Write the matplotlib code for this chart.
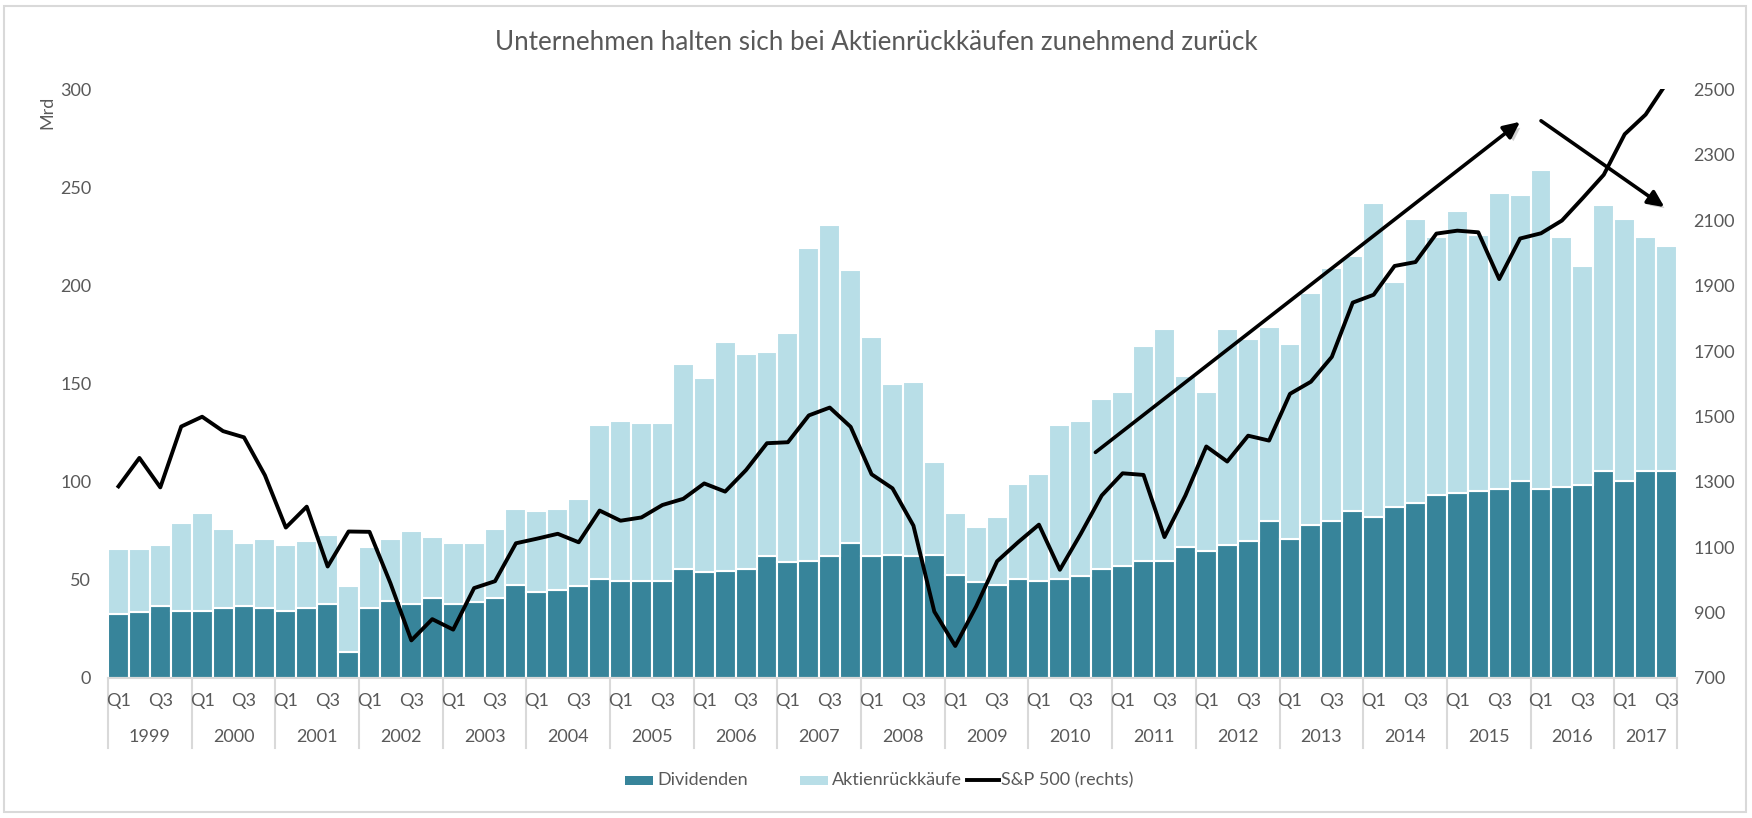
import matplotlib
matplotlib.use('Agg')
import matplotlib.pyplot as plt
import numpy as np
from matplotlib.patches import FancyArrowPatch, Rectangle
from matplotlib.lines import Line2D
import matplotlib.patheffects as pe
import matplotlib.transforms as mtransforms

plt.rcParams['font.family'] = ['Lato', 'DejaVu Sans']

# ---------------- data ----------------
years = [str(y) for y in range(1999, 2018)]
quarter_labels = ['Q1', '', 'Q3', '']

dividenden = [
    32.5, 33.6, 36.7, 34.3,   # 1999
    34.3, 35.6, 36.7, 35.6,   # 2000
    34.3, 35.6, 37.6, 13.5,   # 2001
    35.6, 39.4, 37.6, 40.7,   # 2002
    37.6, 38.5, 40.8, 47.6,   # 2003
    43.8, 44.6, 46.7, 50.7,   # 2004
    49.6, 49.6, 49.6, 55.8,   # 2005
    53.8, 54.7, 55.8, 62.0,   # 2006
    58.9, 59.8, 62.0, 69.0,   # 2007
    62.0, 62.9, 62.0, 62.9,   # 2008
    52.7, 48.7, 47.6, 50.7,   # 2009
    49.6, 50.7, 51.8, 55.8,   # 2010
    56.9, 59.8, 59.8, 67.0,   # 2011
    64.9, 67.9, 69.9, 80.0,   # 2012
    71.0, 78.0, 80.0, 85.1,   # 2013
    82.1, 87.1, 89.1, 93.1,   # 2014
    94.2, 95.1, 96.2, 100.4,  # 2015
    96.2, 97.4, 98.6, 105.7,  # 2016
    100.5, 105.7, 105.7,      # 2017
]

aktienrueckkaeufe = [
    33.5, 32.4, 31.3, 44.7,
    49.7, 40.4, 32.3, 35.4,
    33.7, 34.4, 35.4, 33.5,
    31.4, 31.6, 37.4, 31.3,
    31.4, 30.5, 35.2, 38.4,
    41.2, 41.4, 44.3, 78.3,
    81.4, 80.4, 80.4, 104.2,
    99.2, 116.3, 109.2, 104.0,
    117.1, 159.2, 169.0, 139.0,
    112.0, 87.1, 89.0, 47.1,
    31.3, 28.3, 34.4, 48.3,
    54.4, 78.3, 79.2, 86.2,
    89.1, 109.2, 118.2, 87.0,
    81.1, 110.1, 103.1, 99.0,
    99.0, 118.0, 129.0, 129.9,
    159.9, 114.9, 144.9, 131.9,
    143.8, 130.9, 150.8, 145.6,
    162.8, 127.6, 111.4, 135.3,
    133.5, 119.3, 114.3,
]

sp500 = [
    1286, 1373, 1283, 1469,
    1499, 1455, 1436, 1320,
    1160, 1224, 1041, 1148,
    1147, 990, 815, 880,
    848, 975, 996, 1112,
    1126, 1141, 1115, 1212,
    1181, 1191, 1229, 1248,
    1295, 1270, 1336, 1418,
    1421, 1503, 1527, 1468,
    1323, 1280, 1166, 903,
    798, 919, 1057, 1115,
    1169, 1031, 1141, 1258,
    1326, 1321, 1131, 1258,
    1408, 1362, 1441, 1426,
    1569, 1606, 1682, 1848,
    1872, 1960, 1972, 2059,
    2068, 2063, 1920, 2044,
    2060, 2099, 2168, 2239,
    2363, 2423, 2519,
]

# arrows (x in quarter index, y in left-axis units)
arrow_up = [(46.7, 115.0), (67.0, 283.5)]
arrow_down = [(68.0, 284.0), (73.9, 240.0)]

title = "Unternehmen halten sich bei Aktienrückkäufen zunehmend zurück"
legend_labels = ['Dividenden', 'Aktienrückkäufe', 'S&P 500 (rechts)']

# ---------------- style ----------------
TEAL = '#37849A'
LIGHT = '#B8DEE7'
GRAY_TXT = '#595959'
GRAY_LN = '#D9D9D9'
FS = 13
W, H = 1752, 818

n = len(dividenden)
x = np.arange(n)

fig = plt.figure(figsize=(W / 100, H / 100), dpi=100)
ax_left, ax_right, ax_bottom, ax_top = 108, 1677, 678, 89.4
ax = fig.add_axes([ax_left / W, 1 - ax_bottom / H, (ax_right - ax_left) / W, (ax_bottom - ax_top) / H])
ax_h_px = ax_bottom - ax_top

ax.bar(x, dividenden, width=1.0, color=TEAL, edgecolor='white', linewidth=1.5, zorder=2)
ax.bar(x, aktienrueckkaeufe, bottom=dividenden, width=1.0, color=LIGHT,
       edgecolor='white', linewidth=1.5, zorder=2)
ax.set_xlim(-0.5, n - 0.5)
ax.set_ylim(0, 300)
ax.set_yticks(range(0, 301, 50))
ax.tick_params(axis='y', length=0, pad=12, labelsize=FS, labelcolor=GRAY_TXT)

qpos = [i for i in range(n) if i % 4 in (0, 2)]
qlab = [quarter_labels[i % 4] for i in qpos]
ax.set_xticks(qpos)
ax.set_xticklabels(qlab)
ax.tick_params(axis='x', length=0, pad=11, labelsize=FS, labelcolor=GRAY_TXT)

for s in ['left', 'right', 'top']:
    ax.spines[s].set_visible(False)
ax.spines['bottom'].set_color(GRAY_LN)
ax.spines['bottom'].set_linewidth(1.5)

blend = mtransforms.blended_transform_factory(ax.transData, ax.transAxes)
sep_depth = -70 / ax_h_px
bounds = [-0.5] + [4 * k - 0.5 for k in range(1, len(years))] + [n - 0.5]
for b in bounds:
    ax.plot([b, b], [0, sep_depth], transform=blend, color=GRAY_LN, lw=1.5,
            clip_on=False, zorder=1)
for k, yr in enumerate(years):
    lo = bounds[k]
    hi = bounds[k + 1]
    ax.text((lo + hi) / 2, -59 / ax_h_px, yr, transform=blend, ha='center', va='center',
            fontsize=FS, color=GRAY_TXT)

ax2 = ax.twinx()
ax2.plot(x, sp500, color='black', lw=2.8, solid_joinstyle='round', zorder=3)
ax2.set_ylim(700, 2500)
ax2.set_yticks(range(700, 2501, 200))
ax2.tick_params(axis='y', length=0, pad=12, labelsize=FS, labelcolor=GRAY_TXT)
for s in ax2.spines.values():
    s.set_visible(False)

shadow = [pe.SimplePatchShadow(offset=(2.5, -2.5), shadow_rgbFace='#9a9a9a', alpha=0.45), pe.Normal()]
for (p0, p1) in (arrow_up, arrow_down):
    arr = FancyArrowPatch(p0, p1, transform=ax.transData,
                          arrowstyle='-|>,head_length=0.7,head_width=0.33',
                          mutation_scale=14, lw=2.6, color='black',
                          shrinkA=0, shrinkB=0, clip_on=False, zorder=5,
                          path_effects=shadow)
    ax2.add_patch(arr)

fig.text(0.5, 1 - 42.5 / H, title, ha='center', va='center', fontsize=18.7, color=GRAY_TXT)
fig.text(47 / W, 1 - 112 / H, 'Mrd', rotation=90, ha='center', va='center',
         fontsize=FS, color=GRAY_TXT)

# legend drawn manually (Excel-like equal spacing), positions in figure pixels
leg_y = 780
entries = [('patch', TEAL, 625, 653, 657),
           ('patch', LIGHT, 800, 828, 832),
           ('line', 'black', 967, 999, 1001)]
for (kind, col, x0, x1, tx), lab in zip(entries, legend_labels):
    if kind == 'patch':
        fig.add_artist(Rectangle((x0 / W, 1 - (leg_y + 4.5) / H), (x1 - x0) / W, 9 / H,
                                 transform=fig.transFigure, facecolor=col, edgecolor='none'))
    else:
        fig.add_artist(Line2D([x0 / W, x1 / W], [1 - leg_y / H, 1 - leg_y / H],
                              transform=fig.transFigure, color=col, lw=2.8))
    fig.text(tx / W, 1 - leg_y / H, lab, ha='left', va='center', fontsize=FS, color=GRAY_TXT)

fig.patches.append(Rectangle((4 / W, 6 / H), (1746 - 4) / W, (812 - 6) / H,
                             transform=fig.transFigure, fill=False,
                             edgecolor=GRAY_LN, lw=1.5))

fig.savefig('out.png', dpi=100)
